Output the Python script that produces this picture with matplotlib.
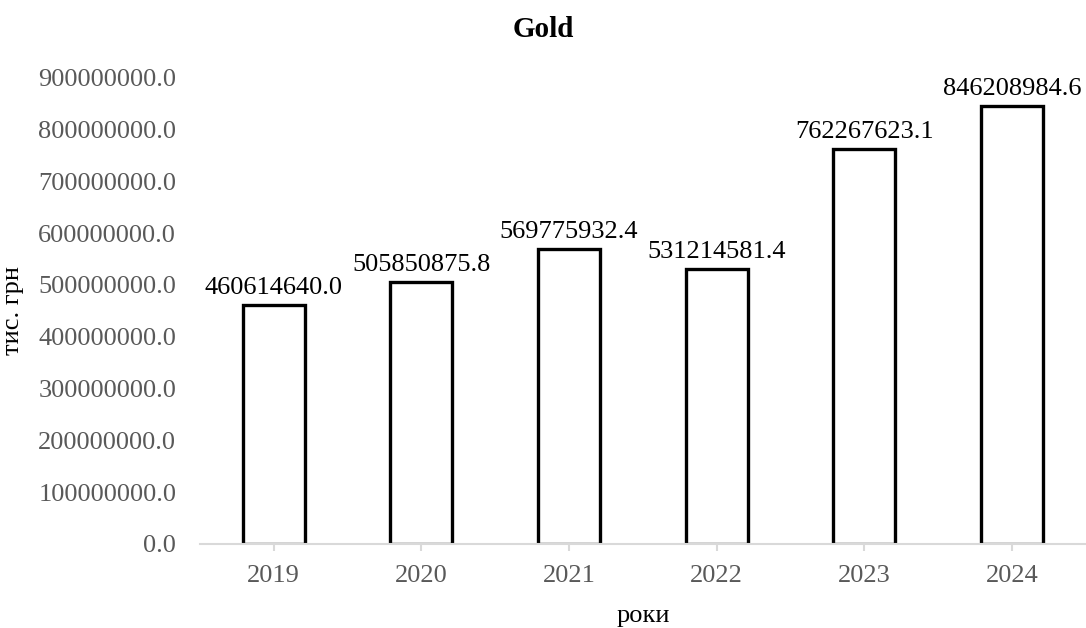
import matplotlib.pyplot as plt

years = ['2019', '2020', '2021', '2022', '2023', '2024']
values = [460614640.0, 505850875.8, 569775932.4, 531214581.4, 762267623.1, 846208984.6]
yticks = [i * 100000000 for i in range(10)]

plt.rcParams['font.family'] = ['Liberation Serif', 'DejaVu Serif']

fig = plt.figure(figsize=(10.86, 6.28), dpi=100)
ax = fig.add_axes([0.184, 0.134, 0.816, 0.742])

x = range(len(years))
ax.bar(x, values, width=0.42, color='white', edgecolor='black', linewidth=2.4, zorder=3)

for xi, v in zip(x, values):
    ax.text(xi, v + 12000000, f'{v:.1f}', ha='center', va='bottom', fontsize=19, color='black')

ax.set_xlim(-0.5, len(years) - 0.5)
ax.set_ylim(0, 900000000)
ax.set_xticks(list(x))
ax.set_xticklabels(years)
ax.set_yticks(yticks)
ax.set_yticklabels([f'{t:.1f}' for t in yticks])

for s in ['top', 'right', 'left']:
    ax.spines[s].set_visible(False)
ax.spines['bottom'].set_color('#d9d9d9')
ax.spines['bottom'].set_linewidth(1.5)
ax.spines['bottom'].set_zorder(4)

ax.tick_params(axis='y', length=0, labelsize=19, labelcolor='#595959', pad=17)
ax.tick_params(axis='x', length=5, color='#d9d9d9', width=1.5, labelsize=19, labelcolor='#595959', pad=10)

ax.set_xlabel('роки', fontsize=19, color='black', labelpad=13)
ax.set_ylabel('тис. грн', fontsize=19, color='black', labelpad=10)
fig.suptitle('Gold', fontsize=21, fontweight='bold', y=0.975)

fig.savefig('out.png', dpi=100)
